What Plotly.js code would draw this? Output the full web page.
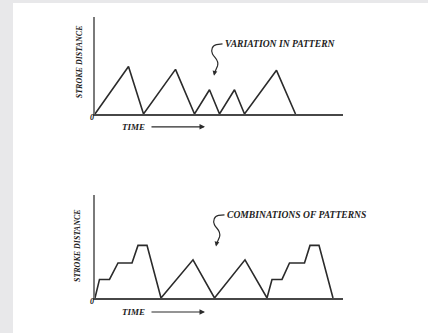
<!DOCTYPE html>
<html>
<head>
<meta charset="utf-8">
<script src="https://cdn.plot.ly/plotly-3.0.1.min.js"></script>
<style>
  html, body { margin: 0; padding: 0; background: #e8e8ea; }
  #chart { position: absolute; left: 13px; top: 3px; width: 415px; height: 330px; background: #ffffff; }
</style>
</head>
<body>
<div id="chart"></div>
<script>
// top panel: variation in pattern
var timeTop = [0, 6.7, 9.7, 16.1, 19.9, 22.9, 24.9, 27.9, 29.9, 36.3, 40.1];
var strokeTop = [0, 4.9, 0, 4.6, 0, 2.5, 0, 2.5, 0, 4.5, 0];

// bottom panel: combinations of patterns
var timeBottom = [0, 0.9, 2.9, 4.6, 7.4, 8.6, 10.4, 13.2, 19.6, 23.9, 30.0, 34.4, 35.4, 37.4, 38.9, 41.9, 43.0, 44.8, 47.6];
var strokeBottom = [0, 1.8, 1.8, 3.4, 3.4, 5.1, 5.1, 0, 3.7, 0, 3.7, 0, 1.8, 1.8, 3.4, 3.4, 5.1, 5.1, 0];

var yTitle = 'STROKE DISTANCE';
var xTitle = 'TIME';
var noteTop = 'VARIATION IN PATTERN';
var noteBottom = 'COMBINATIONS OF PATTERNS';

var ink = '#2b2b2b';
var serif = 'Liberation Serif, DejaVu Serif, serif';
var txtFont = {family: serif, size: 8, color: '#222222'};
var timeFont = {family: serif, size: 9, color: '#222222'};
var noteFont = {family: serif, size: 9.6, color: '#222222'};

function bi(s) { return '<b><i>' + s + '</i></b>'; }

var trace1 = {
    x: timeTop, y: strokeTop, xaxis: 'x', yaxis: 'y',
    type: 'scatter', mode: 'lines',
    line: {color: ink, width: 1.6},
    hoverinfo: 'skip'
};
var trace2 = {
    x: timeBottom, y: strokeBottom, xaxis: 'x2', yaxis: 'y2',
    type: 'scatter', mode: 'lines',
    line: {color: ink, width: 1.6},
    hoverinfo: 'skip'
};

function xAx(anchor) {
    return {
        anchor: anchor, domain: [0, 1], range: [0, 49.6],
        showgrid: false, zeroline: false, showticklabels: false, ticks: '',
        showline: true, linecolor: '#474747', linewidth: 2
    };
}
function yAx(anchor, dom) {
    return {
        anchor: anchor, domain: dom, range: [0, 10],
        showgrid: false, zeroline: false, showticklabels: false, ticks: '',
        showline: true, linecolor: '#7a7a7a', linewidth: 2
    };
}

// squiggly leader lines
var squigTop = 'M 25.5,7.22 L 24.3,7.16 C 23.5,7.11 23.1,6.6 23.5,6.19 C 23.9,5.77 24.9,5.57 24.5,4.95 L 23.9,4.23';
var squigBottom = 'M 25.9,8.06 L 24.7,8.01 C 23.9,7.96 23.5,7.48 23.9,7.09 C 24.3,6.7 25.3,6.5 24.9,5.92 L 24.3,5.24';

function label(x, y, s, f) {
    return {xref: 'paper', yref: 'paper', x: x, y: y, xanchor: 'center', yanchor: 'middle',
        text: bi(s), showarrow: false, font: f || txtFont};
}
function timeArrow(y) {
    return {xref: 'paper', yref: 'paper', x: 0.4435, y: y, text: '', showarrow: true, ax: -55, ay: 0,
        arrowhead: 2, arrowsize: 1, arrowwidth: 1.1, arrowcolor: ink};
}

var layout = {
    width: 415, height: 330,
    margin: {l: 82, r: 85, t: 14, b: 35},
    paper_bgcolor: '#ffffff', plot_bgcolor: '#ffffff',
    showlegend: false,
    xaxis: xAx('y'), yaxis: yAx('x', [0.655, 1]),
    xaxis2: xAx('y2'), yaxis2: yAx('x2', [0, 0.367]),
    shapes: [
        {type: 'path', xref: 'x', yref: 'y', path: squigTop, line: {color: ink, width: 1.2}},
        {type: 'path', xref: 'x2', yref: 'y2', path: squigBottom, line: {color: ink, width: 1.2}}
    ],
    annotations: [
        // y titles
        {xref: 'paper', yref: 'y', x: -0.062, y: 5.4, xanchor: 'center', text: bi(yTitle), textangle: -90, showarrow: false, font: txtFont},
        {xref: 'paper', yref: 'y2', x: -0.068, y: 5.05, xanchor: 'center', text: bi(yTitle), textangle: -90, showarrow: false, font: txtFont},
        // origin
        label(-0.012, 0.641, '0'),
        label(-0.012, -0.014, '0'),
        // time labels and arrows
        label(0.157, 0.609, xTitle, timeFont),
        timeArrow(0.609),
        label(0.157, -0.050, xTitle, timeFont),
        timeArrow(-0.050),
        // notes
        {xref: 'x', yref: 'y', x: 25.6, y: 7.22, text: bi(noteTop), xanchor: 'left', showarrow: false, font: noteFont},
        {xref: 'x2', yref: 'y2', x: 26.0, y: 8.06, text: bi(noteBottom), xanchor: 'left', showarrow: false, font: noteFont},
        // leader tips
        {xref: 'x', yref: 'y', x: 23.8, y: 3.95, text: '', showarrow: true, ax: 1, ay: -5,
            arrowhead: 2, arrowsize: 0.8, arrowwidth: 1.2, arrowcolor: ink},
        {xref: 'x2', yref: 'y2', x: 24.2, y: 5.0, text: '', showarrow: true, ax: 1, ay: -5,
            arrowhead: 2, arrowsize: 0.8, arrowwidth: 1.2, arrowcolor: ink}
    ]
};

Plotly.newPlot('chart', [trace1, trace2], layout, {displayModeBar: false, staticPlot: true});
</script>
</body>
</html>
